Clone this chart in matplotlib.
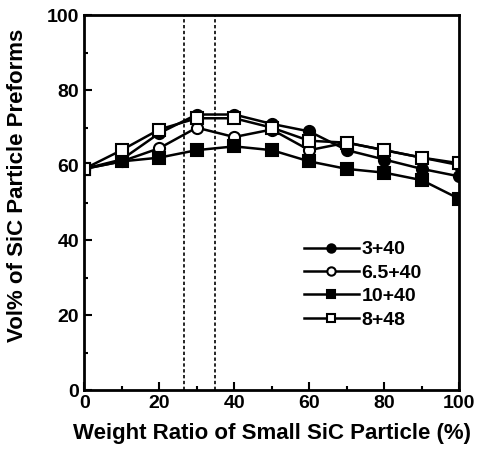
import matplotlib
matplotlib.use('Agg')
import matplotlib.pyplot as plt
from matplotlib.ticker import MultipleLocator

plt.rcParams['font.family'] = ['Liberation Sans', 'DejaVu Sans']
plt.rcParams['font.weight'] = 'bold'

# Data
x = [0, 10, 20, 30, 40, 50, 60, 70, 80, 90, 100]
s_3_40 = [59, 61.5, 68.5, 73.5, 73.5, 71, 69, 64, 61.5, 59, 57]
s_65_40 = [59, 61, 64.5, 70, 67.5, 69.5, 64, 66, 64, 62, 60]
s_10_40 = [59, 61, 62, 64, 65, 64, 61, 59, 58, 56, 51]
s_8_48 = [59, 64, 69.5, 72.5, 72.5, 70, 66.5, 66, 64, 62, 60.5]
labels = ['3+40', '6.5+40', '10+40', '8+48']
vlines = [26.5, 35]

fig = plt.figure(figsize=(4.78, 4.59), dpi=100)
ax = fig.add_axes([0.176, 0.150, 0.785, 0.817])

kw = dict(color='black', lw=1.8, ms=8, markeredgewidth=1.5)
ax.plot(x, s_3_40, marker='o', mfc='black', label=labels[0], **kw)
ax.plot(x, s_65_40, marker='o', mfc='white', label=labels[1], **kw)
ax.plot(x, s_10_40, marker='s', mfc='black', label=labels[2], **kw)
ax.plot(x, s_8_48, marker='s', mfc='white', label=labels[3], **kw)

for v in vlines:
    ax.axvline(v, color='black', lw=1.2, ls=(0, (2, 1.5)))

ax.set_xlim(0, 100)
ax.set_ylim(0, 100)
ax.xaxis.set_major_locator(MultipleLocator(20))
ax.xaxis.set_minor_locator(MultipleLocator(10))
ax.yaxis.set_major_locator(MultipleLocator(20))
ax.yaxis.set_minor_locator(MultipleLocator(10))
ax.tick_params(which='both', direction='in', width=1.5, labelsize=14)
ax.tick_params(which='major', length=6)
ax.tick_params(which='minor', length=3)
for sp in ax.spines.values():
    sp.set_linewidth(2)

ax.set_xlabel('Weight Ratio of Small SiC Particle (%)', fontsize=16, fontweight='bold', labelpad=8)
ax.set_ylabel('Vol% of SiC Particle Preforms', fontsize=16, fontweight='bold')
ax.yaxis.set_label_coords(-0.15, 0.545)

ax.legend(loc='upper left', bbox_to_anchor=(0.54, 0.445), frameon=False, fontsize=14,
          handlelength=2.8, labelspacing=0.3, handletextpad=0.15, markerscale=0.75)

fig.savefig('out.png', dpi=100)
